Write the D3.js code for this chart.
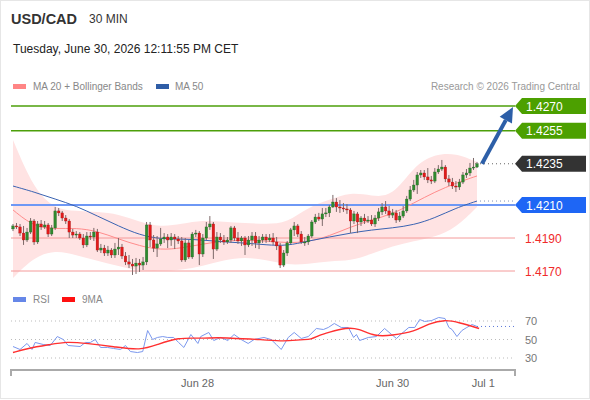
<!DOCTYPE html>
<html>
<head>
<meta charset="utf-8">
<script src="https://cdn.jsdelivr.net/npm/d3@7"></script>
<style>
body{margin:0;background:#fff;font-family:"Liberation Sans",Arial,sans-serif}
</style>
</head>
<body>
<svg id="chart" width="590" height="400"></svg>
<script>
// 30 min candles, USD/CAD
var open=[1.41955,1.41973,1.41967,1.41930,1.41888,1.41936,1.42003,1.41876,1.41985,1.41967,1.41979,1.41924,1.41961,1.42064,1.42052,1.42021,1.42003,1.41936,1.41918,1.41924,1.41900,1.41858,1.41912,1.41906,1.41936,1.41827,1.41839,1.41809,1.41827,1.41797,1.41833,1.41845,1.41791,1.41755,1.41742,1.41730,1.41748,1.41736,1.41755,1.41979,1.41888,1.41839,1.41864,1.41894,1.41906,1.41888,1.41906,1.41894,1.41882,1.41767,1.41870,1.41785,1.41924,1.41930,1.41803,1.41900,1.41967,1.41985,1.41833,1.41906,1.41888,1.41876,1.41888,1.41961,1.41900,1.41882,1.41900,1.41858,1.41888,1.41912,1.41870,1.41888,1.41906,1.41888,1.41900,1.41876,1.41852,1.41736,1.41809,1.41870,1.41949,1.41973,1.41924,1.41876,1.41876,1.41912,1.41997,1.42027,1.42015,1.42046,1.42052,1.42088,1.42118,1.42088,1.42082,1.42076,1.42070,1.42003,1.42046,1.41997,1.42021,1.42003,1.42009,1.41985,1.42021,1.42058,1.42088,1.42064,1.42039,1.42052,1.42009,1.42033,1.42064,1.42136,1.42191,1.42221,1.42282,1.42294,1.42270,1.42252,1.42245,1.42300,1.42318,1.42330,1.42258,1.42239,1.42215,1.42209,1.42239,1.42282,1.42294,1.42324,1.42330]
var high=[1.41985,1.41991,1.41985,1.41973,1.41961,1.42021,1.42015,1.42003,1.42009,1.42003,1.41991,1.41979,1.42088,1.42082,1.42064,1.42039,1.42015,1.41955,1.41942,1.41936,1.41924,1.41936,1.41936,1.41961,1.41955,1.41864,1.41858,1.41852,1.41839,1.41870,1.41900,1.41864,1.41815,1.41797,1.41773,1.41779,1.41773,1.41785,1.41997,1.41997,1.41918,1.41912,1.41961,1.41930,1.41924,1.41930,1.41924,1.41912,1.41906,1.41900,1.41888,1.41936,1.41949,1.41942,1.41924,1.41997,1.42033,1.41997,1.41936,1.41930,1.41918,1.41906,1.41973,1.41973,1.41936,1.41912,1.41912,1.41912,1.41936,1.41936,1.41912,1.41924,1.41924,1.41924,1.41930,1.41906,1.41870,1.41827,1.41882,1.41961,1.41997,1.41985,1.41942,1.41906,1.41924,1.42009,1.42046,1.42052,1.42082,1.42082,1.42100,1.42161,1.42142,1.42130,1.42112,1.42106,1.42082,1.42064,1.42058,1.42033,1.42046,1.42033,1.42039,1.42039,1.42082,1.42112,1.42124,1.42094,1.42076,1.42070,1.42058,1.42094,1.42155,1.42215,1.42252,1.42300,1.42312,1.42312,1.42324,1.42276,1.42324,1.42342,1.42373,1.42342,1.42282,1.42264,1.42245,1.42258,1.42300,1.42318,1.42355,1.42385,1.42361]
var low=[1.41942,1.41955,1.41912,1.41858,1.41876,1.41924,1.41858,1.41864,1.41949,1.41955,1.41906,1.41912,1.41949,1.42033,1.42003,1.41985,1.41900,1.41900,1.41900,1.41888,1.41839,1.41845,1.41888,1.41882,1.41815,1.41809,1.41791,1.41791,1.41779,1.41779,1.41797,1.41773,1.41736,1.41718,1.41676,1.41682,1.41694,1.41706,1.41736,1.41845,1.41815,1.41785,1.41852,1.41870,1.41839,1.41852,1.41833,1.41864,1.41755,1.41755,1.41773,1.41773,1.41906,1.41736,1.41785,1.41888,1.41949,1.41773,1.41821,1.41870,1.41858,1.41864,1.41870,1.41882,1.41864,1.41852,1.41797,1.41845,1.41852,1.41839,1.41833,1.41870,1.41870,1.41876,1.41858,1.41827,1.41718,1.41724,1.41791,1.41864,1.41912,1.41906,1.41864,1.41852,1.41858,1.41900,1.41985,1.42003,1.41973,1.42027,1.42027,1.42082,1.42058,1.42052,1.42058,1.42046,1.41930,1.41985,1.41930,1.41973,1.41985,1.41991,1.41973,1.41967,1.42003,1.42039,1.42046,1.42021,1.42021,1.41991,1.41997,1.42021,1.42052,1.42124,1.42179,1.42167,1.42264,1.42252,1.42233,1.42227,1.42233,1.42288,1.42306,1.42239,1.42215,1.42197,1.42179,1.42191,1.42227,1.42264,1.42276,1.42312,1.42324]
var close=[1.41973,1.41967,1.41930,1.41888,1.41936,1.42003,1.41876,1.41985,1.41967,1.41979,1.41924,1.41961,1.42064,1.42052,1.42021,1.42003,1.41936,1.41918,1.41924,1.41900,1.41858,1.41912,1.41906,1.41936,1.41827,1.41839,1.41809,1.41827,1.41797,1.41833,1.41845,1.41791,1.41755,1.41742,1.41730,1.41748,1.41736,1.41755,1.41979,1.41888,1.41839,1.41864,1.41894,1.41906,1.41888,1.41906,1.41894,1.41882,1.41767,1.41870,1.41785,1.41924,1.41930,1.41803,1.41900,1.41967,1.41985,1.41833,1.41906,1.41888,1.41876,1.41888,1.41961,1.41900,1.41882,1.41900,1.41858,1.41888,1.41912,1.41870,1.41888,1.41906,1.41888,1.41900,1.41876,1.41852,1.41736,1.41809,1.41870,1.41949,1.41973,1.41924,1.41876,1.41876,1.41912,1.41997,1.42027,1.42015,1.42046,1.42052,1.42088,1.42118,1.42088,1.42082,1.42076,1.42070,1.42003,1.42046,1.41997,1.42021,1.42003,1.42009,1.41985,1.42021,1.42058,1.42088,1.42064,1.42039,1.42052,1.42009,1.42033,1.42064,1.42136,1.42191,1.42221,1.42282,1.42294,1.42270,1.42252,1.42245,1.42300,1.42318,1.42330,1.42258,1.42239,1.42215,1.42209,1.42239,1.42282,1.42294,1.42324,1.42330,1.42350]

// indicators read every 6 candles
var indIdx=[0,6,12,18,24,30,36,42,48,54,60,66,72,78,84,90,96,102,108,114,120,126,132]
var ma20=[1.42070,1.41967,1.41955,1.41961,1.41942,1.41894,1.41852,1.41827,1.41839,1.41864,1.41882,1.41888,1.41882,1.41870,1.41876,1.41912,1.41967,1.42009,1.42046,1.42112,1.42179,1.42233,1.42276]
var bbUpper=[1.42494,1.42191,1.42076,1.42064,1.42058,1.42046,1.41997,1.41967,1.41985,1.42009,1.41997,1.41991,1.41985,1.41991,1.42088,1.42130,1.42179,1.42155,1.42149,1.42336,1.42409,1.42415,1.42361]
var bbLower=[1.41658,1.41785,1.41827,1.41797,1.41761,1.41730,1.41700,1.41700,1.41706,1.41730,1.41767,1.41785,1.41767,1.41736,1.41742,1.41761,1.41761,1.41803,1.41852,1.41882,1.41906,1.41961,1.42088]
var ma50=[1.42215,1.42179,1.42136,1.42094,1.42033,1.41973,1.41918,1.41894,1.41894,1.41888,1.41876,1.41870,1.41858,1.41852,1.41882,1.41906,1.41930,1.41949,1.41961,1.41979,1.42021,1.42082,1.42124]

// RSI panel
var rsiIdx=[0,2,4,5.4,6.3,8.6,10.6,12.6,14.3,15.7,19.1,20.6,22,23.4,24.9,26.9,28.6,30.6,32,33.4,35.4,36.9,38.3,39.7,41.1,42.6,44,45.7,47.1,48.6,50.6,52.6,53.4,55.7,57.1,59.1,61.1,62.9,64.9,66.9,68.6,71.4,73.4,74.9,76.3,78.3,80,82,84,86.3,88.3,89.7,91.4,93.4,95.4,96.9,97.7,98.6,101.1,103.4,105.7,107.7,109.1,110.6,112.6,114.3,115.7,117.1,119.1,121.1,122.9,124,124.9,126.3,127.7,129.1,130.6,132]
var rsi=[42.4,39.2,45.7,39.2,46.8,44.6,43.5,53.2,50,43.5,42.4,46.8,46.8,50,41.4,41.4,40.3,39.2,43.5,37,35.9,37,59.7,50,52.2,53.2,52.2,52.2,46.8,41.4,55.4,45.7,53.2,57.6,48.9,52.2,48.9,55.4,50,45.7,50,52.2,50,44.6,39.2,52.2,57.6,51.1,53.2,61.9,60.8,63,67.3,63,63,52.2,55.4,48.9,52.2,53.2,61.9,55.4,51.1,56.5,63,63,71.6,69.5,70.5,73.8,72.7,63,60.8,53.2,59.7,63,66.2,64.1]
var rsiMaIdx=[0,4,10.6,15.4,21.1,28.6,36.3,41.1,46.9,53.4,58.3,62.9,70.6,77.1,82,84.9,86.9,89.7,94.9,98.3,102.9,107.7,114.3,118.3,122.9,126.9,132.6]
var rsiMa=[35.9,40.3,44.6,47.8,45.7,42.4,38.1,44.6,52.2,51.1,52.2,51.1,50,47.8,50,50,54.3,57.6,63,61.9,53.2,54.3,58.6,67.3,71.6,68.4,61.9]
var rsiTicks=[70,50,30]

// price levels
var resistances=[1.4270,1.4255]
var lastPrice=1.4235
var pivot=1.4210
var supports=[1.4190,1.4170]

// date labels (candle position)
var dateLabels=["Jun 28","Jun 30","Jul 1"]
var datePos=[52.5,108,133.8]

var svg=d3.select("#chart")

// frame
svg.append("rect").attr("x",0.5).attr("y",0.5).attr("width",589).attr("height",398)
    .attr("fill","#fff").attr("stroke","#e6e6e6")

var xScale=d3.scaleLinear().domain([0,close.length-1]).range([13,477])
var yScale=d3.scaleLinear().domain([1.4170,1.4270]).range([271,106])
var rScale=d3.scaleLinear().domain([30,70]).range([358,321])

var lineLeft=11,lineRight=515

// header
svg.append("text").text("USD/CAD").attr("x",11).attr("y",24)
    .attr("font-size",14.5).attr("font-weight","bold").attr("fill","#333")
svg.append("text").text("30 MIN").attr("x",89).attr("y",23)
    .attr("font-size",12).attr("fill","#333")
svg.append("text").text("Tuesday, June 30, 2026 12:11:55 PM CET").attr("x",13).attr("y",53)
    .attr("font-size",12).attr("fill","#222")

// legend
var legend=svg.append("g").attr("font-size",10).attr("fill","#888")
legend.append("rect").attr("x",13).attr("y",84).attr("width",13).attr("height",5).attr("fill","#ff8585")
legend.append("text").text("MA 20 + Bollinger Bands").attr("x",33).attr("y",90)
legend.append("rect").attr("x",156).attr("y",84).attr("width",13).attr("height",5).attr("fill","#2f5da6")
legend.append("text").text("MA 50").attr("x",175).attr("y",90)
legend.append("text").text("Research \u00a9 2026 Trading Central").attr("x",580).attr("y",90)
    .attr("text-anchor","end").attr("fill","#999")

// bollinger band
var bandData=indIdx.map(function(d,i){return {i:d,u:bbUpper[i],l:bbLower[i],m:ma20[i],s:ma50[i]}})
var area=d3.area().curve(d3.curveBasis)
    .x(function(d){return xScale(d.i)})
    .y0(function(d){return yScale(d.l)})
    .y1(function(d){return yScale(d.u)})
svg.append("path").datum(bandData).attr("d",area).attr("fill","#ffe3e3")

// horizontal levels
var levels=svg.append("g")
resistances.forEach(function(v){
    levels.append("line").attr("x1",lineLeft).attr("x2",lineRight)
        .attr("y1",yScale(v)).attr("y2",yScale(v)).attr("stroke","#4c9f0a").attr("stroke-width",1.6)
})
levels.append("line").attr("x1",lineLeft).attr("x2",lineRight)
    .attr("y1",yScale(pivot)).attr("y2",yScale(pivot)).attr("stroke","#6e98f5").attr("stroke-width",1.8)
supports.forEach(function(v){
    levels.append("line").attr("x1",lineLeft).attr("x2",lineRight)
        .attr("y1",yScale(v)).attr("y2",yScale(v)).attr("stroke","#f49a9a").attr("stroke-width",1)
})

// moving averages
var ma20Line=d3.line().curve(d3.curveBasis).x(function(d){return xScale(d.i)}).y(function(d){return yScale(d.m)})
var ma50Line=d3.line().curve(d3.curveBasis).x(function(d){return xScale(d.i)}).y(function(d){return yScale(d.s)})
svg.append("path").datum(bandData).attr("d",ma20Line).attr("fill","none").attr("stroke","#ff8c8c").attr("stroke-width",1)
svg.append("path").datum(bandData).attr("d",ma50Line).attr("fill","none").attr("stroke","#3a63b2").attr("stroke-width",1)

// candles
var candles=svg.append("g")
close.forEach(function(c,i){
    var o=open[i]
    var x=xScale(i)
    candles.append("line").attr("x1",x).attr("x2",x)
        .attr("y1",yScale(high[i])).attr("y2",yScale(low[i]))
        .attr("stroke","#7d6a6a").attr("stroke-width",1)
    var top=yScale(Math.max(o,c)),bot=yScale(Math.min(o,c))
    candles.append("rect").attr("x",x-1.3).attr("width",2.6)
        .attr("y",top).attr("height",Math.max(1,bot-top))
        .attr("fill",c>=o?"#2f8a2f":"#e21a1a")
        .attr("stroke",c>=o?"#1f5f1f":"#9a1010").attr("stroke-width",0.3)
})

// dotted guides to the labels
var lastX=xScale(close.length-1)+3
svg.append("line").attr("x1",lastX).attr("x2",lineRight)
    .attr("y1",yScale(lastPrice)).attr("y2",yScale(lastPrice))
    .attr("stroke","#666").attr("stroke-dasharray","1,3")
svg.append("line").attr("x1",lastX).attr("x2",lineRight)
    .attr("y1",yScale(ma50[ma50.length-1])).attr("y2",yScale(ma50[ma50.length-1]))
    .attr("stroke","#7a8fb8").attr("stroke-dasharray","1,3")

// target arrow
var ax0=lastX+2,ay0=yScale(lastPrice)
var ax1=513,ay1=yScale(resistances[0])+1
var ang=Math.atan2(ay1-ay0,ax1-ax0)
var headLen=15,headW=7
var bx=ax1-headLen*Math.cos(ang),by=ay1-headLen*Math.sin(ang)
svg.append("line").attr("x1",ax0).attr("y1",ay0).attr("x2",bx).attr("y2",by)
    .attr("stroke","#2d5fa8").attr("stroke-width",4)
svg.append("path").attr("fill","#2d5fa8").attr("d",
    "M"+ax1+","+ay1+
    "L"+(bx+headW*Math.sin(ang))+","+(by-headW*Math.cos(ang))+
    "L"+(bx-headW*Math.sin(ang))+","+(by+headW*Math.cos(ang))+"Z")

// price tags
var tag=function(v,color){
    var y=yScale(v)
    var g=svg.append("g")
    g.append("path").attr("fill",color).attr("d",
        "M515,"+y+"L522,"+(y-8)+"L586,"+(y-8)+"L586,"+(y+8)+"L522,"+(y+8)+"Z")
    g.append("text").text(d3.format(".4f")(v)).attr("x",526).attr("y",y+4.5)
        .attr("font-size",12).attr("fill","#fff")
}
resistances.forEach(function(v){tag(v,"#4ca000")})
tag(lastPrice,"#333333")
tag(pivot,"#1e66f5")
supports.forEach(function(v){
    svg.append("text").text(d3.format(".4f")(v)).attr("x",525).attr("y",yScale(v)+4.5)
        .attr("font-size",12).attr("fill","#f02a2a")
})

// RSI legend
var rl=svg.append("g").attr("font-size",10).attr("fill","#888")
rl.append("rect").attr("x",13).attr("y",297).attr("width",13).attr("height",5).attr("fill","#6687e8")
rl.append("text").text("RSI").attr("x",33).attr("y",303)
rl.append("rect").attr("x",62).attr("y",297).attr("width",13).attr("height",5).attr("fill","#ff1010")
rl.append("text").text("9MA").attr("x",82).attr("y",303)

// RSI grid
rsiTicks.forEach(function(t){
    svg.append("line").attr("x1",lineLeft).attr("x2",lineRight)
        .attr("y1",rScale(t)).attr("y2",rScale(t))
        .attr("stroke","#bbb").attr("stroke-dasharray","1,3")
    svg.append("text").text(t).attr("x",525).attr("y",rScale(t)+4)
        .attr("font-size",11).attr("fill","#777")
})

var rsiPts=rsiIdx.map(function(d,i){return [d,rsi[i]]})
var rsiMaPts=rsiMaIdx.map(function(d,i){return [d,rsiMa[i]]})
var rLine=d3.line().x(function(d){return xScale(d[0])}).y(function(d){return rScale(d[1])})
svg.append("path").datum(rsiPts).attr("d",rLine).attr("fill","none").attr("stroke","#7b98ee").attr("stroke-width",1)
svg.append("path").datum(rsiMaPts).attr("d",rLine.curve(d3.curveBasis)).attr("fill","none")
    .attr("stroke","#ff3030").attr("stroke-width",1.4)
svg.append("line").attr("x1",xScale(rsiIdx[rsiIdx.length-1])).attr("x2",lineRight)
    .attr("y1",rScale(rsi[rsi.length-1])).attr("y2",rScale(rsi[rsi.length-1]))
    .attr("stroke","#5b78d8").attr("stroke-dasharray","1,3")

// time axis
var axisY=370
svg.append("path").attr("d","M"+lineLeft+","+(axisY+6)+"V"+axisY+"H"+lineRight+"V"+(axisY+6))
    .attr("fill","none").attr("stroke","#aaa").attr("stroke-width",2)
dateLabels.forEach(function(d,i){
    svg.append("text").text(d).attr("x",xScale(datePos[i])).attr("y",387)
        .attr("text-anchor","middle").attr("font-size",11).attr("fill","#666")
})
</script>
</body>
</html>
